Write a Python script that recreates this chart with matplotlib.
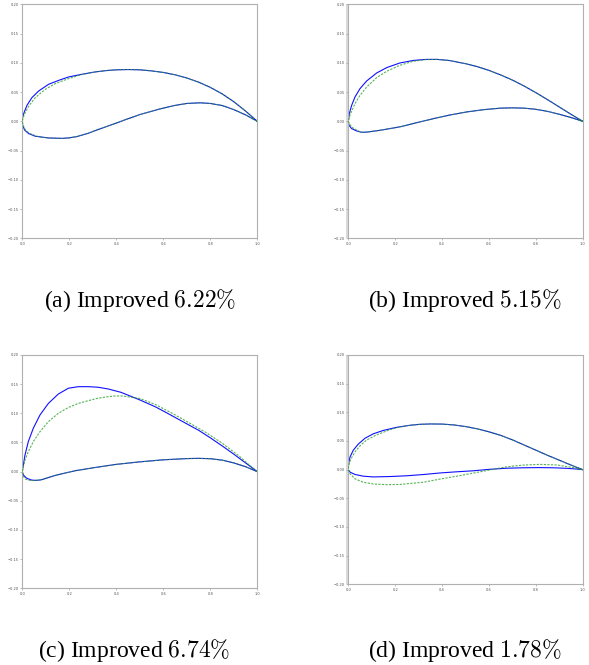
import matplotlib
matplotlib.use("Agg")
import matplotlib.pyplot as plt

# ---------------- data ----------------
# each contour: upper surface from LE to TE, lower surface from LE to TE
a_blue_up_x = [0, 0.0014, 0.0085, 0.02, 0.041, 0.07, 0.112, 0.155, 0.197, 0.254, 0.31, 0.36, 0.4, 0.45, 0.5, 0.55, 0.6, 0.65, 0.7, 0.75, 0.8, 0.85, 0.9, 0.95, 1.0]
a_blue_up_y = [0, 0.0074, 0.016, 0.0274, 0.0405, 0.0519, 0.0633, 0.070, 0.0758, 0.0804, 0.0844, 0.0868, 0.0880, 0.0885, 0.0880, 0.0862, 0.0835, 0.0795, 0.0740, 0.0670, 0.0580, 0.0470, 0.0335, 0.0175, 0.0]
a_green_up_x = [0, 0.0035, 0.0099, 0.027, 0.0553, 0.098, 0.14, 0.197, 0.254, 0.31, 0.36, 0.4, 0.45, 0.5, 0.55, 0.6, 0.65, 0.7, 0.75, 0.8, 0.85, 0.9, 0.95, 1.0]
a_green_up_y = [0, 0.006, 0.0131, 0.0257, 0.0405, 0.0547, 0.0644, 0.073, 0.080, 0.0844, 0.0868, 0.0880, 0.0885, 0.0880, 0.0862, 0.0835, 0.0795, 0.0740, 0.0670, 0.0580, 0.0470, 0.0335, 0.0175, 0.0]
a_blue_lo_x = [0, 0.0014, 0.0099, 0.027, 0.055, 0.112, 0.17, 0.2, 0.231, 0.28, 0.33, 0.39, 0.444, 0.5, 0.586, 0.65, 0.7, 0.756, 0.8, 0.85, 0.9, 0.95, 1.0]
a_blue_lo_y = [0, -0.0068, -0.0150, -0.0210, -0.0255, -0.0285, -0.0292, -0.0283, -0.0262, -0.0205, -0.0130, -0.0045, 0.0035, 0.0115, 0.0212, 0.0272, 0.0305, 0.0316, 0.0305, 0.027, 0.020, 0.011, 0.0]
a_green_lo_x = [0, 0.004, 0.015, 0.035, 0.07, 0.112, 0.17, 0.2, 0.231, 0.28, 0.33, 0.39, 0.444, 0.5, 0.586, 0.65, 0.7, 0.756, 0.8, 0.85, 0.9, 0.95, 1.0]
a_green_lo_y = [0, -0.0075, -0.016, -0.0215, -0.0265, -0.0285, -0.0292, -0.0283, -0.0262, -0.0205, -0.0130, -0.0045, 0.0035, 0.0115, 0.0212, 0.0272, 0.0305, 0.0316, 0.0305, 0.027, 0.020, 0.011, 0.0]

b_blue_up_x = [0, 0.0044, 0.0144, 0.0286, 0.05, 0.0785, 0.121, 0.164, 0.22, 0.277, 0.33, 0.38, 0.43, 0.5, 0.55, 0.6, 0.65, 0.7, 0.75, 0.8, 0.85, 0.9, 0.95, 1.0]
b_blue_up_y = [0, 0.0131, 0.0274, 0.0416, 0.0559, 0.069, 0.0826, 0.0918, 0.0997, 0.104, 0.1058, 0.1058, 0.104, 0.0985, 0.0935, 0.0870, 0.0793, 0.0705, 0.0603, 0.0490, 0.0370, 0.0245, 0.0120, 0.0]
b_green_up_x = [0, 0.0044, 0.0144, 0.0286, 0.05, 0.0785, 0.121, 0.164, 0.22, 0.277, 0.33, 0.38, 0.43, 0.5, 0.55, 0.6, 0.65, 0.7, 0.75, 0.8, 0.85, 0.9, 0.95, 1.0]
b_green_up_y = [0, 0.0074, 0.0177, 0.0302, 0.0445, 0.0587, 0.0747, 0.0855, 0.0958, 0.1026, 0.1055, 0.1058, 0.104, 0.0985, 0.0935, 0.0870, 0.0793, 0.0705, 0.0603, 0.0490, 0.0370, 0.0245, 0.0120, 0.0]
b_blue_lo_x = [0, 0.003, 0.0144, 0.0356, 0.057, 0.0785, 0.135, 0.22, 0.306, 0.363, 0.43, 0.505, 0.58, 0.65, 0.7, 0.75, 0.8, 0.85, 0.9, 0.95, 1.0]
b_blue_lo_y = [0, -0.0068, -0.0125, -0.0165, -0.0188, -0.0185, -0.0154, -0.0095, -0.001, 0.0045, 0.0105, 0.016, 0.020, 0.0225, 0.0230, 0.0225, 0.0205, 0.017, 0.012, 0.0065, 0.0]
b_green_lo_x = [0, 0.005, 0.02, 0.04, 0.057, 0.0785, 0.135, 0.22, 0.306, 0.363, 0.43, 0.505, 0.58, 0.65, 0.7, 0.75, 0.8, 0.85, 0.9, 0.95, 1.0]
b_green_lo_y = [0, -0.005, -0.0115, -0.016, -0.0188, -0.0185, -0.0154, -0.0095, -0.001, 0.0045, 0.0105, 0.016, 0.020, 0.0225, 0.0230, 0.0225, 0.0205, 0.017, 0.012, 0.0065, 0.0]

c_blue_up_x = [0, 0.0044, 0.0115, 0.0255, 0.0468, 0.0753, 0.111, 0.153, 0.196, 0.238, 0.281, 0.323, 0.366, 0.42, 0.5, 0.567, 0.6, 0.65, 0.709, 0.75, 0.8, 0.851, 0.9, 0.95, 1.0]
c_blue_up_y = [0, 0.0115, 0.0286, 0.0514, 0.0744, 0.0972, 0.117, 0.133, 0.143, 0.1457, 0.1457, 0.1447, 0.1417, 0.136, 0.123, 0.111, 0.104, 0.093, 0.080, 0.071, 0.058, 0.044, 0.030, 0.015, 0.0]
c_green_up_x = [0, 0.0044, 0.0115, 0.0255, 0.0468, 0.0753, 0.111, 0.153, 0.196, 0.238, 0.281, 0.323, 0.366, 0.394, 0.426, 0.5, 0.567, 0.638, 0.7, 0.78, 0.85, 0.922, 0.96, 1.0]
c_green_up_y = [0, 0.0086, 0.020, 0.0343, 0.0514, 0.0686, 0.0857, 0.100, 0.110, 0.117, 0.1217, 0.126, 0.1286, 0.1297, 0.1297, 0.1255, 0.115, 0.100, 0.086, 0.0675, 0.049, 0.027, 0.0135, 0.0]
c_blue_lo_x = [0, 0.0044, 0.0186, 0.040, 0.061, 0.0826, 0.139, 0.224, 0.3, 0.4, 0.5, 0.6, 0.7, 0.75, 0.8, 0.85, 0.9, 0.95, 1.0]
c_blue_lo_y = [0, -0.0057, -0.0113, -0.0145, -0.0150, -0.0138, -0.0065, 0.0015, 0.0065, 0.0125, 0.0168, 0.0203, 0.0224, 0.0228, 0.0222, 0.0198, 0.0150, 0.0085, 0.0]
c_green_lo_x = [0, 0.004, 0.015, 0.03, 0.05, 0.0826, 0.139, 0.224, 0.3, 0.4, 0.5, 0.6, 0.7, 0.75, 0.8, 0.85, 0.9, 0.95, 1.0]
c_green_lo_y = [0, -0.008, -0.013, -0.0150, -0.0152, -0.0138, -0.0065, 0.0015, 0.0065, 0.0125, 0.0168, 0.0203, 0.0224, 0.0228, 0.0222, 0.0198, 0.0150, 0.0085, 0.0]

d_blue_up_x = [0, 0.001, 0.0072, 0.0213, 0.0427, 0.0712, 0.1067, 0.149, 0.206, 0.263, 0.306, 0.35, 0.4, 0.45, 0.5, 0.55, 0.6, 0.65, 0.7, 0.75, 0.8, 0.85, 0.9, 0.95, 1.0]
d_blue_up_y = [0, 0.0101, 0.022, 0.034, 0.0446, 0.0548, 0.0625, 0.0684, 0.0738, 0.0774, 0.0791, 0.0797, 0.0795, 0.0780, 0.0752, 0.0712, 0.0660, 0.0598, 0.0520, 0.0430, 0.0340, 0.0250, 0.0165, 0.0080, 0.0]
d_green_up_x = [0, 0.001, 0.010, 0.0286, 0.050, 0.0785, 0.121, 0.178, 0.22, 0.263, 0.306, 0.35, 0.4, 0.45, 0.5, 0.55, 0.6, 0.65, 0.7, 0.75, 0.8, 0.85, 0.9, 0.95, 1.0]
d_green_up_y = [0, 0.006, 0.0179, 0.031, 0.0416, 0.0518, 0.0607, 0.0697, 0.0745, 0.0774, 0.0791, 0.0797, 0.0795, 0.0780, 0.0752, 0.0712, 0.0660, 0.0598, 0.0520, 0.0430, 0.0340, 0.0250, 0.0165, 0.0080, 0.0]
d_blue_lo_x = [0, 0.0072, 0.0286, 0.064, 0.1067, 0.178, 0.249, 0.32, 0.391, 0.46, 0.533, 0.6, 0.676, 0.75, 0.818, 0.88, 0.932, 0.97, 1.0]
d_blue_lo_y = [0, -0.0043, -0.0084, -0.0114, -0.0127, -0.0120, -0.0107, -0.0085, -0.0058, -0.0038, -0.0020, 0.0005, 0.0025, 0.0033, 0.0036, 0.0032, 0.0023, 0.0012, 0.0]
d_green_lo_x = [0, 0.0072, 0.0286, 0.064, 0.1067, 0.164, 0.22, 0.32, 0.391, 0.462, 0.533, 0.605, 0.676, 0.747, 0.818, 0.889, 0.96, 1.0]
d_green_lo_y = [0, -0.0071, -0.016, -0.022, -0.025, -0.0262, -0.0258, -0.022, -0.0165, -0.0115, -0.006, -0.0005, 0.0050, 0.0080, 0.0092, 0.0082, 0.0036, 0.0]

captions = ["(a) Improved $6.22\\%$", "(b) Improved $5.15\\%$",
            "(c) Improved $6.74\\%$", "(d) Improved $1.78\\%$"]
x_ticks = [0.0, 0.2, 0.4, 0.6, 0.8, 1.0]
y_ticks = [-0.20, -0.15, -0.10, -0.05, 0.00, 0.05, 0.10, 0.15, 0.20]

# ---------------- figure ----------------
plt.rcParams['mathtext.fontset'] = 'cm'
fig = plt.figure(figsize=(5.89, 6.65), dpi=100)
W, H = 589.0, 665.0

# axes boxes in pixels: left, top, right, bottom
boxes = [(22.3, 4.3, 257.3, 238.3), (348.3, 4.3, 582.7, 238.3),
         (22.3, 355.0, 257.3, 588.3), (348.3, 355.0, 582.7, 584.3)]
caption_pos = [(140, 300), (465, 300), (134, 651), (465, 651)]

series = [
    (a_blue_up_x, a_blue_up_y, a_blue_lo_x, a_blue_lo_y, a_green_up_x, a_green_up_y, a_green_lo_x, a_green_lo_y),
    (b_blue_up_x, b_blue_up_y, b_blue_lo_x, b_blue_lo_y, b_green_up_x, b_green_up_y, b_green_lo_x, b_green_lo_y),
    (c_blue_up_x, c_blue_up_y, c_blue_lo_x, c_blue_lo_y, c_green_up_x, c_green_up_y, c_green_lo_x, c_green_lo_y),
    (d_blue_up_x, d_blue_up_y, d_blue_lo_x, d_blue_lo_y, d_green_up_x, d_green_up_y, d_green_lo_x, d_green_lo_y),
]

for i, (box, s) in enumerate(zip(boxes, series)):
    l, t, r, b = box
    ax = fig.add_axes([l / W, 1 - b / H, (r - l) / W, (b - t) / H])
    bux, buy, blx, bly, gux, guy, glx, gly = s
    bx = bux[::-1] + blx[1:]
    by = buy[::-1] + bly[1:]
    gx = gux[::-1] + glx[1:]
    gy = guy[::-1] + gly[1:]
    ax.plot(bx, by, color='#1010ff', lw=0.8, solid_joinstyle='round', zorder=2)
    ax.plot(gx, gy, color='#2ca02c', lw=0.8, ls=(0, (2.0, 1.2)), alpha=0.8, zorder=3)
    ax.set_xlim(0, 1)
    ax.set_ylim(-0.2, 0.2)
    ax.set_xticks(x_ticks)
    ax.set_yticks(y_ticks)
    ax.set_xticklabels([f"{v:.1f}" for v in x_ticks])
    ax.set_yticklabels([f"{v:.2f}".replace('-', '\u2212') for v in y_ticks])
    ax.tick_params(labelsize=2.6, length=1.5, width=0.5, pad=1,
                   colors='#a0a0a0', labelcolor='#555555')
    for sp in ax.spines.values():
        sp.set_color('#b0b0b0')
        sp.set_linewidth(0.8)
    if i in (1, 3):
        ax.axvspan(-0.009, 0, color='#dadada', clip_on=False, zorder=0, lw=0)
    cx, cy = caption_pos[i]
    fig.text(cx / W, 1 - cy / H, captions[i], ha='center', va='center',
             fontsize=17, family='Liberation Serif', color='black')

fig.savefig('out.png', dpi=100)
